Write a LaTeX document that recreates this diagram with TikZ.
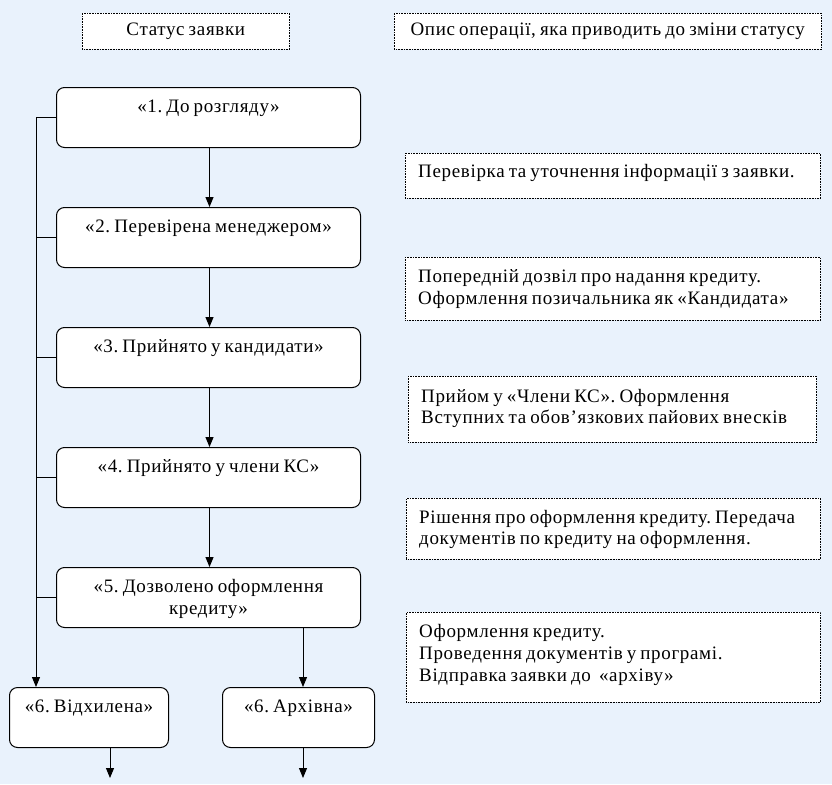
\documentclass[tikz,border=0pt]{standalone}
\usepackage{fontspec}
\setmainfont{Liberation Serif}[LetterSpace=3.5,WordSpace=0.75]
\usetikzlibrary{arrows.meta,positioning,calc}
\definecolor{bgblue}{RGB}{233,242,252}
\newcommand{\fs}{\rule{0pt}{18pt}}
\frenchspacing
\begin{document}
\begin{tikzpicture}[x=1pt,y=-1pt,
  every node/.style={font=\fontsize{19}{21.5}\selectfont},
  stat/.style={draw=black,line width=1pt,fill=white,rounded corners=8pt,anchor=north west,inner sep=0pt},
  head/.style={draw=black,line width=0.6pt,densely dotted,fill=white,anchor=north west,inner sep=0pt},
  desc/.style={draw=black,line width=0.6pt,densely dotted,fill=white,anchor=north west,inner sep=0pt},
  stxt/.style={anchor=north,align=center,inner sep=0pt},
  dtxt/.style={anchor=north west,align=left,inner sep=0pt},
  arr/.style={line width=1pt,-{Triangle[length=10pt,width=8pt]}},
  ln/.style={line width=1pt}]
\fill[bgblue] (0,0) rectangle (832,784);
\useasboundingbox (0,0) rectangle (832,784);
% headers
\node[head,minimum width=207pt,minimum height=36pt] (h1) at (82,13) {};
\node (h1t) at (h1.center) {Статус заявки};
\node[head,minimum width=427pt,minimum height=36pt] (h2) at (394,13) {};
\node (h2t) at (h2.center) {Опис операції, яка приводить до зміни статусу};
% status boxes
\node[stat,minimum width=304pt,minimum height=60pt] (s1) at (56,87) {};
\node[stat,minimum width=304pt,minimum height=60pt] (s2) at (56,207) {};
\node[stat,minimum width=304pt,minimum height=60pt] (s3) at (56,327) {};
\node[stat,minimum width=304pt,minimum height=60pt] (s4) at (56,447) {};
\node[stat,minimum width=304pt,minimum height=60pt] (s5) at (56,567) {};
\node[stat,minimum width=159pt,minimum height=60pt] (s6a) at (9,687) {};
\node[stat,minimum width=152pt,minimum height=60pt] (s6b) at (222,687) {};
\node[stxt] (t1) at ([yshift=-7.5pt]s1.north) {\fs«1. До розгляду»};
\node[stxt] (t2) at ([yshift=-7.5pt]s2.north) {\fs«2. Перевірена менеджером»};
\node[stxt] (t3) at ([yshift=-7.5pt]s3.north) {\fs«3. Прийнято у кандидати»};
\node[stxt] (t4) at ([yshift=-7.5pt]s4.north) {\fs«4. Прийнято у члени КС»};
\node[stxt] (t5) at ([yshift=-7.5pt]s5.north) {\fs«5. Дозволено оформлення\\кредиту»};
\node[stxt] (t6a) at ([yshift=-7.5pt]s6a.north) {\fs«6. Відхилена»};
\node[stxt] (t6b) at ([yshift=-7.5pt]s6b.north) {\fs«6. Архівна»};
% description boxes
\node[desc,minimum width=415pt,minimum height=45pt] (d1) at (405,153) {};
\node[dtxt] (d1t) at (418,159.5) {\fs Перевірка та уточнення інформації з заявки.};
\node[desc,minimum width=415pt,minimum height=63pt] (d2) at (405,257) {};
\node[dtxt] (d2t) at (418,264.5) {\fs Попередній дозвіл про надання кредиту.\\Оформлення позичальника як «Кандидата»};
\node[desc,minimum width=408pt,minimum height=66pt] (d3) at (408,376) {};
\node[dtxt] (d3t) at (421,384) {\fs Прийом у «Члени КС». Оформлення\\Вступних та обов’язкових пайових внесків};
\node[desc,minimum width=414pt,minimum height=61pt] (d4) at (406,498) {};
\node[dtxt] (d4t) at (419,505) {\fs Рішення про оформлення кредиту. Передача\\документів по кредиту на оформлення.};
\node[desc,minimum width=414pt,minimum height=90pt] (d5) at (406,612) {};
\node[dtxt,font=\fontsize{19}{22}\selectfont] (d5t) at (419,619) {\fs Оформлення кредиту.\\Проведення документів у програмі.\\Відправка заявки до~ «архіву»};
% connectors
\draw[arr] ([xshift=1pt]s1.south) -- ([xshift=1pt]s2.north);
\draw[arr] ([xshift=1pt]s2.south) -- ([xshift=1pt]s3.north);
\draw[arr] ([xshift=1pt]s3.south) -- ([xshift=1pt]s4.north);
\draw[arr] ([xshift=1pt]s4.south) -- ([xshift=1pt]s5.north);
\coordinate (L) at (36,0);
\coordinate (R) at (303,0);
\draw[arr] (R |- s5.south) -- (R |- s6b.north);
\draw[ln] (s1.west) -- (s1.west -| L);
\draw[arr] (s1.west -| L) -- (L |- s6a.north);
\draw[ln] (s2.west) -- (s2.west -| L);
\draw[ln] (s3.west) -- (s3.west -| L);
\draw[ln] (s4.west) -- (s4.west -| L);
\draw[ln] (s5.west) -- (s5.west -| L);
\coordinate (b1) at (110,778);
\coordinate (b2) at (303,778);
\draw[arr] (b1 |- s6a.south) -- (b1);
\draw[arr] (b2 |- s6b.south) -- (b2);
\end{tikzpicture}
\end{document}
